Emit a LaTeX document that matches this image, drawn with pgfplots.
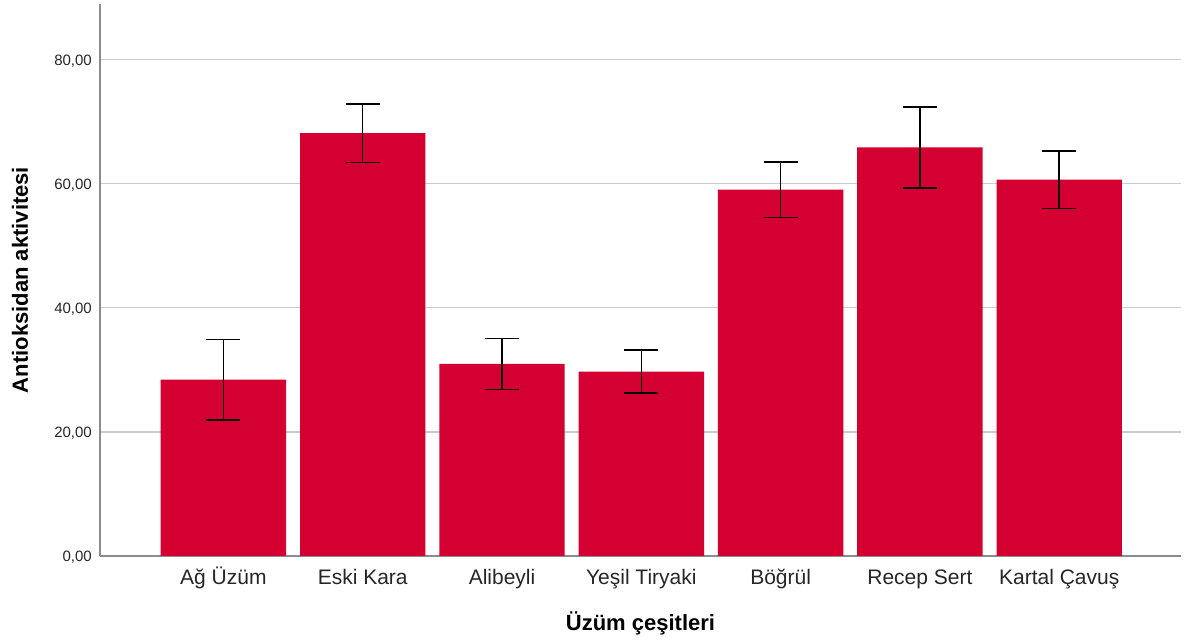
\documentclass[border=0pt]{standalone}
\usepackage{pgfplots}
\pgfplotsset{compat=1.18}
\usepackage{pgfplotstable}
\usepackage{fontspec}
\setmainfont{Liberation Sans}
\definecolor{barred}{RGB}{213,0,50}
\definecolor{gridgray}{RGB}{202,202,202}
\definecolor{axisgray}{RGB}{140,140,140}
\pgfplotstableread{
x y e
0 28.40 6.50
1 68.10 4.73
2 30.95 4.10
3 29.70 3.44
4 59.00 4.46
5 65.80 6.52
6 60.60 4.65
}\datatable
\begin{document}
\begin{tikzpicture}
\useasboundingbox (-100pt,-88pt) rectangle (1085pt,556pt);
\begin{axis}[
  scale only axis, width=1081pt, height=552pt,
  at={(0pt,0pt)}, anchor=south west,
  xmin=-0.886, xmax=6.874, ymin=0, ymax=88.9,
  axis x line*=bottom, axis y line*=left,
  axis line style={axisgray, line width=1.3pt},
  xtick={0,1,2,3,4,5,6},
  xticklabels={Ağ Üzüm, Eski Kara, Alibeyli, Yeşil Tiryaki, Böğrül, Recep Sert, Kartal Çavuş},
  ytick={0,20,40,60,80},
  /pgf/number format/assume math mode=true,
  /pgf/number format/fixed, /pgf/number format/fixed zerofill,
  /pgf/number format/precision=2, /pgf/number format/use comma,
  ymajorgrids, grid style={gridgray, line width=1.5pt},
  major tick length=0pt,
  yticklabel style={font=\fontsize{15}{18}\selectfont, text=black!85, anchor=east, inner sep=0pt, xshift=-8pt, yshift=-1.5pt},
  xticklabel style={font=\fontsize{21}{25}\selectfont, text=black!85, anchor=base, inner sep=0pt, yshift=-29pt},
  every axis y label/.style={at={(axis description cs:-0.074,0.5)}, rotate=90, anchor=center},
  every axis x label/.style={at={(axis description cs:0.5,-0.1214)}, anchor=center},
  ylabel={Antioksidan aktivitesi}, xlabel={Üzüm çeşitleri},
  label style={font=\bfseries\fontsize{22}{26}\selectfont, text=black},
]
\addplot[ybar, bar width=0.9, fill=barred, draw=none,
  error bars/.cd, y dir=both, y explicit,
  error bar style={black, line width=1.5pt},
  error mark options={rotate=90, mark size=17pt, line width=1.5pt, black}]
  table[x=x, y=y, y error=e] {\datatable};
\end{axis}
\end{tikzpicture}
\end{document}
